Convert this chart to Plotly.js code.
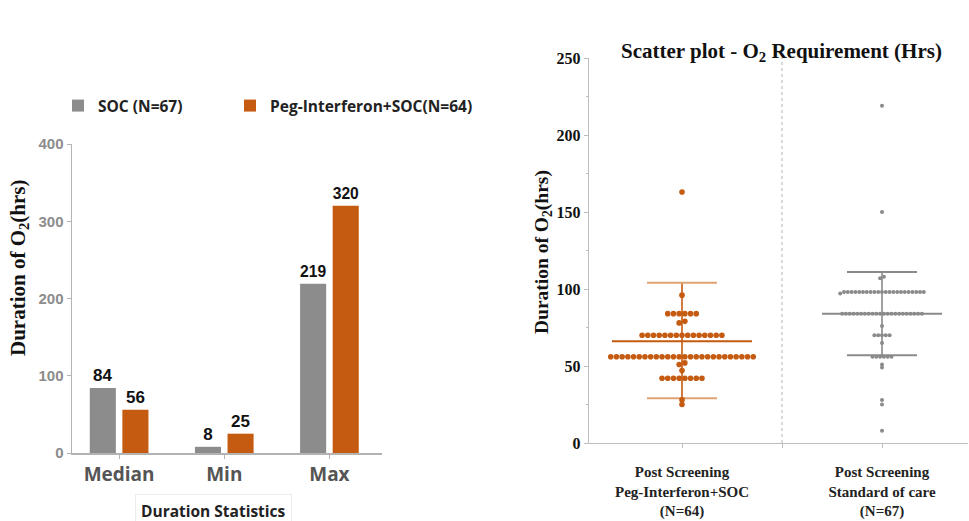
<!DOCTYPE html>
<html>
<head>
<meta charset="utf-8">
<script src="https://cdn.plot.ly/plotly-3.0.1.min.js"></script>
<style>html,body{margin:0;padding:0;background:#fff;}#chart{width:969px;height:521px;}</style>
</head>
<body>
<div id="chart"></div>
<script>
// ---- Bar chart data ----
const barCategories = ['Median', 'Min', 'Max'];
const socValues = [84, 8, 219];
const pegValues = [56, 25, 320];
const legendNames = ['SOC (N=67)', 'Peg-Interferon+SOC(N=64)'];

// ---- Scatter data ----
const scatterGroups = ['Post Screening<br>Peg-Interferon+SOC<br>(N=64)', 'Post Screening<br>Standard of care<br>(N=67)'];
const pegO2Hours = [163, 96,
  84, 84, 84, 84, 84, 84,
  78, 79,
  70, 70, 70, 70, 70, 70, 70, 70, 70, 70, 70, 70, 70, 70, 70,
  56, 56, 56, 56, 56, 56, 56, 56, 56, 56, 56, 56, 56, 56, 56, 56, 56, 56, 56, 56, 56, 56, 56, 56, 56, 56,
  51, 52, 47,
  42, 42, 42, 42, 42, 42, 42, 42,
  28, 25];
const socO2Hours = [219, 150, 107, 108,
  98, 98, 98, 98, 98, 98, 98, 98, 98, 98, 98, 98, 98, 98, 98, 98, 98, 98, 98, 98, 98, 98, 97,
  84, 84, 84, 84, 84, 84, 84, 84, 84, 84, 84, 84, 84, 84, 84, 84, 84, 84, 84, 84, 84, 84,
  76, 70, 70, 70, 70, 70, 65,
  56, 56, 56, 56, 56, 56,
  51, 49, 28, 25, 8];
const meanHours = [66, 84];
const sdUpperHours = [104, 111];
const sdLowerHours = [29, 57];

const ORANGE = '#C55A11';
const ORANGE_LIGHT = '#E0A272';
const GREY = '#8C8C8C';
const SCAT_GREY = '#8A8A8A';
const SERIF = 'Liberation Serif, DejaVu Serif, serif';
const SANS = 'Liberation Sans, Arial, sans-serif';
const OPEN = 'Open Sans, Liberation Sans, sans-serif';

// beeswarm-style layout: values in the same row spread symmetrically
function swarm(values, center, spacing, tol) {
  const sorted = values.slice().sort((a, b) => a - b);
  const rows = [];
  sorted.forEach(v => {
    const last = rows[rows.length - 1];
    if (last && v - last[0] <= tol) last.push(v); else rows.push([v]);
  });
  const xs = [], ys = [];
  rows.forEach(row => {
    const n = row.length;
    row.forEach((v, k) => { xs.push(center + (k - (n - 1) / 2) * spacing); ys.push(v); });
  });
  return {xs, ys};
}

const pegSwarm = swarm(pegO2Hours, 0, 0.0285, 1.5);
const socSwarm = swarm(socO2Hours, 1, 0.019, 1.5);

const barText = {family: SANS, size: 17, color: '#111', weight: 'bold'};
const traces = [
  {type: 'bar', x: barCategories, y: socValues, name: legendNames[0], marker: {color: GREY},
   text: socValues.map(String), textposition: 'outside', cliponaxis: false,
   textfont: barText, xaxis: 'x', yaxis: 'y', legend: 'legend'},
  {type: 'bar', x: barCategories, y: pegValues, name: legendNames[1], marker: {color: ORANGE},
   text: pegValues.map(String), textposition: 'outside', cliponaxis: false,
   textfont: barText, xaxis: 'x', yaxis: 'y', legend: 'legend2'},
];

const halfMean = [0.35, 0.3];
const groupColors = [ORANGE, SCAT_GREY];
const capColors = [ORANGE_LIGHT, SCAT_GREY];
[0, 1].forEach(i => {
  traces.push({type: 'scatter', mode: 'lines', x: [i, i], y: [sdLowerHours[i], sdUpperHours[i]],
    line: {color: groupColors[i], width: 1.6}, showlegend: false, hoverinfo: 'skip', xaxis: 'x2', yaxis: 'y2'});
  [sdUpperHours[i], sdLowerHours[i]].forEach(v => {
    traces.push({type: 'scatter', mode: 'lines', x: [i - 0.175, i + 0.175], y: [v, v],
      line: {color: capColors[i], width: 2}, showlegend: false, hoverinfo: 'skip', xaxis: 'x2', yaxis: 'y2'});
  });
  traces.push({type: 'scatter', mode: 'lines', x: [i - halfMean[i], i + halfMean[i]], y: [meanHours[i], meanHours[i]],
    line: {color: groupColors[i], width: 2}, showlegend: false, hoverinfo: 'skip', xaxis: 'x2', yaxis: 'y2'});
});

traces.push({type: 'scatter', mode: 'markers', x: pegSwarm.xs, y: pegSwarm.ys,
  marker: {color: ORANGE, size: 5.6}, showlegend: false, xaxis: 'x2', yaxis: 'y2'});
traces.push({type: 'scatter', mode: 'markers', x: socSwarm.xs, y: socSwarm.ys,
  marker: {color: SCAT_GREY, size: 4}, showlegend: false, xaxis: 'x2', yaxis: 'y2'});

const W = 969, H = 521;
const legendFont = {family: OPEN, size: 15.5, color: '#222', weight: 'bold'};
const layout = {
  width: W, height: H,
  margin: {l: 0, r: 0, t: 0, b: 0},
  paper_bgcolor: '#fff', plot_bgcolor: '#fff',
  showlegend: true,
  barmode: 'group', bargap: 0.38, bargroupgap: 0.2,
  legend: {orientation: 'h', x: 58 / W, xanchor: 'left', y: (H - 106) / H, yanchor: 'middle',
    font: legendFont, bgcolor: 'rgba(0,0,0,0)'},
  legend2: {orientation: 'h', x: 230 / W, xanchor: 'left', y: (H - 106) / H, yanchor: 'middle',
    font: legendFont, bgcolor: 'rgba(0,0,0,0)'},
  xaxis: {domain: [72 / W, 382 / W], range: [-0.448, 2.5], showgrid: false, zeroline: false,
    showline: true, linecolor: '#b3b3b3', linewidth: 1.5, ticks: 'outside', ticklen: 4, tickcolor: '#b3b3b3',
    tickfont: {family: OPEN, size: 19, color: '#555', weight: 'bold'}, anchor: 'y'},
  yaxis: {domain: [68 / H, 377 / H], range: [0, 400], dtick: 100, showgrid: false, zeroline: false,
    showline: true, linecolor: '#b3b3b3', linewidth: 1.5, ticks: 'outside', ticklen: 4, tickcolor: '#b3b3b3',
    tickfont: {family: SANS, size: 15, color: '#8c8c8c', weight: 'bold'}, anchor: 'x'},
  xaxis2: {domain: [589 / W, 968 / W], range: [-0.465, 1.43], showgrid: false, zeroline: false,
    showline: true, linecolor: '#bdbdbd', linewidth: 1.2, ticks: 'outside', ticklen: 4, tickcolor: '#bdbdbd',
    tickvals: [0, 0.5, 1], ticktext: [scatterGroups[0], ' ', scatterGroups[1]], ticklabelstandoff: 11,
    tickfont: {family: SERIF, size: 15, color: '#222', weight: 'bold'}, anchor: 'y2'},
  yaxis2: {domain: [78 / H, 463 / H], range: [0, 250], dtick: 50, showgrid: false, zeroline: false,
    showline: true, linecolor: '#bdbdbd', linewidth: 1.2, ticks: 'outside', ticklen: 4, tickcolor: '#bdbdbd',
    minor: {dtick: 25, ticks: 'outside', ticklen: 2, tickcolor: '#bdbdbd'},
    tickfont: {family: SERIF, size: 16, color: '#111', weight: 'bold'}, anchor: 'x2'},
  shapes: [
    {type: 'line', xref: 'x2', yref: 'y2', x0: 0.5, x1: 0.5, y0: 0, y1: 252,
     line: {color: '#b5b5b5', width: 1, dash: 'dot'}}
  ],
  annotations: [
    {text: 'Scatter plot - O<sub>2</sub> Requirement (Hrs)', xref: 'paper', yref: 'paper',
     x: 781 / W, y: (H - 52) / H, xanchor: 'center', yanchor: 'middle', showarrow: false,
     font: {family: SERIF, size: 21, color: '#111', weight: 'bold'}},
    {text: 'Duration of O<sub>2</sub>(hrs)', xref: 'paper', yref: 'paper', textangle: -90,
     x: 543 / W, y: (H - 252) / H, xanchor: 'center', yanchor: 'middle', showarrow: false,
     font: {family: SERIF, size: 19.5, color: '#111', weight: 'bold'}},
    {text: 'Duration of O<sub>2</sub>(hrs)', xref: 'paper', yref: 'paper', textangle: -90,
     x: 19 / W, y: (H - 268) / H, xanchor: 'center', yanchor: 'middle', showarrow: false,
     font: {family: SERIF, size: 21, color: '#111', weight: 'bold'}},
    {text: 'Duration Statistics', xref: 'paper', yref: 'paper',
     x: 213 / W, y: (H - 511) / H, xanchor: 'center', yanchor: 'middle', showarrow: false,
     bordercolor: '#ececec', borderwidth: 1, borderpad: 5,
     font: {family: OPEN, size: 15.5, color: '#222', weight: 'bold'}}
  ]
};

Plotly.newPlot('chart', traces, layout, {displayModeBar: false, staticPlot: true});
</script>
</body>
</html>
